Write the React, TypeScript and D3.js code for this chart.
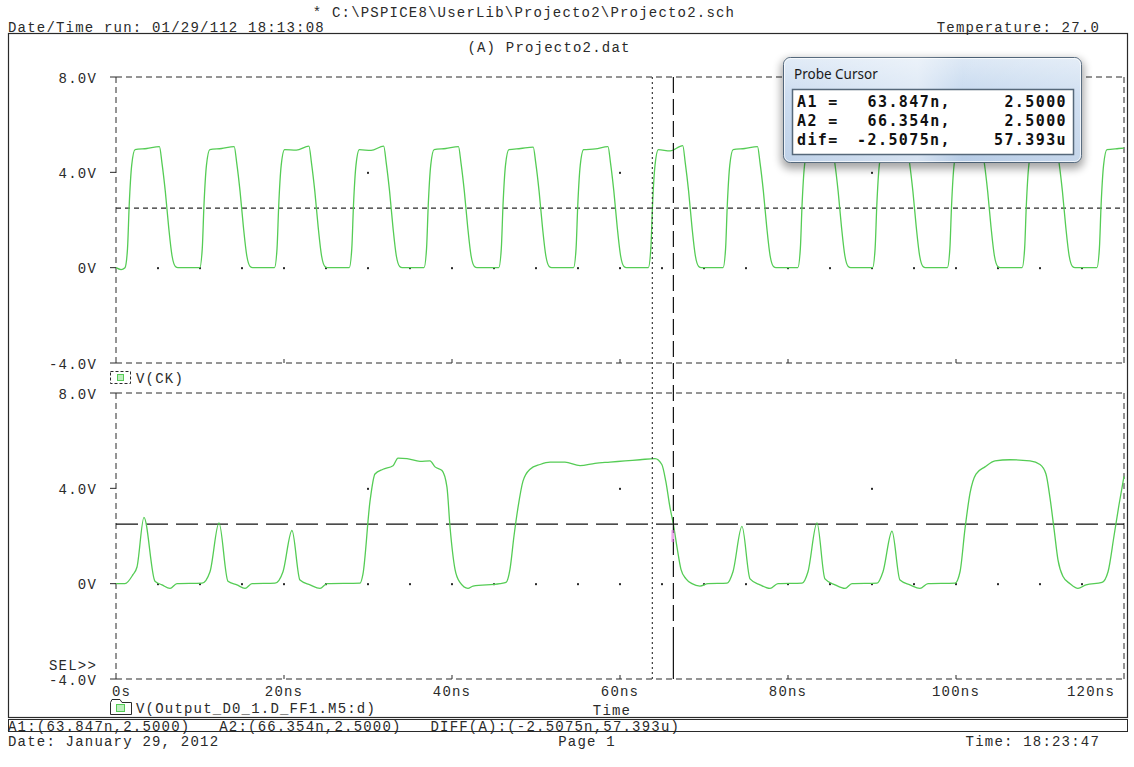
import React from 'react';
import * as d3 from 'd3';

// axis data
const timeTicks = [0, 20, 40, 60, 80, 100, 120];
const timeTickLabels = ['0s', '20ns', '40ns', '60ns', '80ns', '100ns', '120ns'];
const voltTicks = [8, 4, 0, -4];
const voltTickLabels = ['8.0V', '4.0V', '0V', '-4.0V'];

// cursors (ns, V)
const cursorA1 = [63.847, 2.5];
const cursorA2 = [66.354, 2.5];

const probeRows = [
  ['A1 =', '63.847n,', '2.5000'],
  ['A2 =', '66.354n,', '2.5000'],
  ['dif=', '-2.5075n,', '57.393u'],
];

// V(CK) trace, [ns, V]
const ckWave: [number, number][] = [
  [0, 0], [0.6, -0.08],
  [1.07, 0], [1.37, 0.8], [1.57, 2.6], [1.87, 4.3], [2.27, 4.95], [3.67, 5.0], [5.17, 5.08], [5.47, 4.4], [5.87, 3.2], [6.27, 1.7], [6.67, 0.5], [7.07, 0.05], [7.37, 0],
  [9.97, 0], [10.27, 0.8], [10.47, 2.6], [10.77, 4.3], [11.17, 4.95], [12.57, 5.0], [14.07, 5.08], [14.37, 4.4], [14.77, 3.2], [15.17, 1.7], [15.57, 0.5], [15.97, 0.05], [16.27, 0],
  [18.87, 0], [19.17, 0.8], [19.37, 2.6], [19.67, 4.3], [20.07, 4.95], [21.47, 4.93], [22.97, 5.1], [23.27, 4.4], [23.67, 3.2], [24.07, 1.7], [24.47, 0.5], [24.87, 0.05], [25.17, 0],
  [27.77, 0], [28.07, 0.8], [28.27, 2.6], [28.57, 4.3], [28.97, 4.95], [30.37, 4.92], [31.87, 5.1], [32.17, 4.4], [32.57, 3.2], [32.97, 1.7], [33.37, 0.5], [33.77, 0.05], [34.07, 0],
  [36.67, 0], [36.97, 0.8], [37.17, 2.6], [37.47, 4.3], [37.87, 4.95], [39.27, 5.0], [40.77, 5.08], [41.07, 4.4], [41.47, 3.2], [41.87, 1.7], [42.27, 0.5], [42.67, 0.05], [42.97, 0],
  [45.57, 0], [45.87, 0.8], [46.07, 2.6], [46.37, 4.3], [46.77, 4.95], [48.17, 5.0], [49.67, 5.06], [49.97, 4.4], [50.37, 3.2], [50.77, 1.7], [51.17, 0.5], [51.57, 0.05], [51.87, 0],
  [54.47, 0], [54.77, 0.8], [54.97, 2.6], [55.27, 4.3], [55.67, 4.95], [57.07, 4.98], [58.57, 5.08], [58.87, 4.4], [59.27, 3.2], [59.67, 1.7], [60.07, 0.5], [60.47, 0.05], [60.77, 0],
  [63.37, 0], [63.67, 0.8], [63.87, 2.6], [64.17, 4.3], [64.57, 4.95], [65.97, 4.9], [67.47, 5.12], [67.77, 4.4], [68.17, 3.2], [68.57, 1.7], [68.97, 0.5], [69.37, 0.05], [69.67, 0],
  [72.27, 0], [72.57, 0.8], [72.77, 2.6], [73.07, 4.3], [73.47, 4.95], [74.87, 5.0], [76.37, 5.08], [76.67, 4.4], [77.07, 3.2], [77.47, 1.7], [77.87, 0.5], [78.27, 0.05], [78.57, 0],
  [81.17, 0], [81.47, 0.8], [81.67, 2.6], [81.97, 4.3], [82.37, 4.95], [83.77, 5.0], [85.27, 5.06], [85.57, 4.4], [85.97, 3.2], [86.37, 1.7], [86.77, 0.5], [87.17, 0.05], [87.47, 0],
  [90.07, 0], [90.37, 0.8], [90.57, 2.6], [90.87, 4.3], [91.27, 4.95], [92.67, 4.96], [94.17, 5.1], [94.47, 4.4], [94.87, 3.2], [95.27, 1.7], [95.67, 0.5], [96.07, 0.05], [96.37, 0],
  [98.97, 0], [99.27, 0.8], [99.47, 2.6], [99.77, 4.3], [100.17, 4.95], [101.57, 5.0], [103.07, 5.08], [103.37, 4.4], [103.77, 3.2], [104.17, 1.7], [104.57, 0.5], [104.97, 0.05], [105.27, 0],
  [107.87, 0], [108.17, 0.8], [108.37, 2.6], [108.67, 4.3], [109.07, 4.95], [110.47, 4.98], [111.97, 5.08], [112.27, 4.4], [112.67, 3.2], [113.07, 1.7], [113.47, 0.5], [113.87, 0.05], [114.17, 0],
  [116.77, 0], [117.07, 0.8], [117.27, 2.6], [117.57, 4.3], [117.97, 4.95], [119.37, 5.0], [120, 5.02],
];

// V(Output_D0_1.D_FF1.M5:d) trace, [ns, V]
const outWave: [number, number][] = [
  [0, 0], [1.07, 0], [2.02, 0.38], [2.5, 0.7], [3.33, 2.78], [4.64, 0.1], [5.48, -0.05], [6.43, -0.2], [7.26, 0],
  [10.24, 0.02], [11.19, 0.5], [12.26, 2.55], [13.33, 0.1], [14.4, -0.05], [15.36, -0.2], [16.19, 0],
  [18.93, 0.02], [19.88, 0.5], [20.95, 2.23], [21.9, 0.15], [23.1, -0.05], [24.29, -0.2], [25.12, 0],
  [29.05, 0.02], [29.4, 0.4], [30.24, 3.46], [30.83, 4.6], [31.79, 4.8], [32.98, 4.95], [33.57, 5.27], [34.64, 5.25],
  [36.19, 5.13], [37.38, 5.15], [37.98, 4.9], [38.81, 4.75], [39.4, 4.05], [39.76, 2.4], [40.36, 0.6], [40.95, 0.05],
  [41.9, -0.2], [42.5, -0.1], [45.71, 0],
  [46.43, 0.05], [46.9, 0.6], [47.38, 2.0], [47.86, 3.2], [48.45, 4.3], [49.29, 4.8], [50.48, 5.0], [51.67, 5.1],
  [53.45, 5.1], [55.24, 4.95], [57.02, 5.05], [58.81, 5.1], [60.6, 5.15], [62.38, 5.2], [64.17, 5.25], [64.98, 5.0],
  [65.45, 4.3], [65.95, 3.2], [66.354, 2.5], [66.8, 1.5], [67.26, 0.6], [67.86, 0.2], [68.57, 0], [69.52, -0.1], [70.48, 0],
  [72.74, 0.02], [73.45, 0.5], [74.52, 2.4], [75.48, 0.2], [76.67, -0.05], [77.86, -0.2], [78.81, 0],
  [81.67, 0.02], [82.38, 0.5], [83.45, 2.55], [84.4, 0.2], [85.6, -0.05], [86.79, -0.2], [87.62, 0],
  [90.6, 0.02], [91.31, 0.5], [92.38, 2.2], [93.33, 0.15], [94.52, -0.05], [95.71, -0.2], [96.67, 0],
  [99.88, 0.02], [100.48, 0.5], [101.07, 2.3], [101.67, 3.8], [102.38, 4.6], [103.45, 4.9], [104.64, 5.15], [106.43, 5.2],
  [108.81, 5.15], [110.0, 5.0], [110.71, 4.6], [111.19, 3.6], [111.67, 2.3], [112.14, 1.0], [112.74, 0.3], [113.57, 0],
  [114.52, -0.2], [115.48, -0.05], [117.38, 0.05], [118.1, 0.5], [118.81, 2.0], [119.4, 3.3], [120, 4.5],
];

const W = 1134;
const H = 767;
const MONO = '"Liberation Mono", "DejaVu Sans Mono", monospace';
const INK = '#2a2a2a';
const TRACE = '#55cc55';

const x = d3.scaleLinear().domain([0, 120]).range([116, 1124]);
const yTop = d3.scaleLinear().domain([-4, 8]).range([363, 77]);
const yBot = d3.scaleLinear().domain([-4, 8]).range([679, 393]);

const T: React.FC<{ x: number; y: number; anchor?: string; children: React.ReactNode; size?: number }> = ({ x, y, anchor = 'start', children, size = 14 }) => (
  <text x={x} y={y} textAnchor={anchor} fontFamily={MONO} fontSize={size} letterSpacing={1.2} fill={INK} dominantBaseline="middle" style={{ whiteSpace: 'pre' }}>
    {children}
  </text>
);

const Plot: React.FC<{ y: d3.ScaleLinear<number, number>; data: [number, number][]; hDash: string; last: boolean }> = ({ y, data, hDash, last }) => {
  const line = d3.line<[number, number]>().x(d => x(d[0])).y(d => y(d[1])).curve(d3.curveMonotoneX);
  const [x0, x1] = x.range();
  const [yb, yt] = y.range();
  return (
    <g>
      {/* frame */}
      <line x1={x0} x2={x1} y1={yt} y2={yt} stroke={INK} strokeDasharray="6 4" />
      <line x1={x0} x2={x1} y1={yb} y2={yb} stroke={INK} strokeDasharray="6 4" />
      <line x1={x0} x2={x0} y1={yt} y2={yb} stroke={INK} strokeDasharray="6 4" />
      <line x1={x1} x2={x1} y1={yt} y2={yb} stroke={INK} strokeDasharray="6 4" />
      {voltTicks.map((v, i) => (
        <g key={v}>
          <line x1={x0 - 6} x2={x0} y1={y(v)} y2={y(v)} stroke={INK} />
          <T x={97} y={y(v) + 2} anchor="end">{voltTickLabels[i]}</T>
        </g>
      ))}
      {timeTicks.slice(1, -1).map(t => (
        <line key={t} x1={x(t)} x2={x(t)} y1={yb} y2={yb - 4} stroke={INK} />
      ))}
      {/* grid dots */}
      {d3.range(5, 120, 5).map(t => (
        <rect key={'a' + t} x={x(t) - 1} y={y(0) - 0.5} width={2} height={2} fill={INK} />
      ))}
      {d3.range(30, 120, 30).map(t => (
        <rect key={'b' + t} x={x(t) - 1} y={y(4) - 0.5} width={2} height={2} fill={INK} />
      ))}
      {/* horizontal cursor level */}
      <line x1={x0} x2={x1} y1={y(cursorA1[1])} y2={y(cursorA1[1])} stroke={last ? '#111' : INK} strokeWidth={last ? 1.3 : 1.1} strokeDasharray={hDash} />
      <path d={line(data) || ''} fill="none" stroke={TRACE} strokeWidth={1.3} />
    </g>
  );
};

export default function App() {
  const xa1 = x(cursorA1[0]);
  const xa2 = x(cursorA2[0]);
  const px = 783;
  const py = 57;
  return (
    <svg width={W} height={H} style={{ position: 'absolute', left: 0, top: 0, background: '#fff' }}>
      <defs>
        <linearGradient id="glass" x1="0" y1="0" x2="0" y2="1">
          <stop offset="0" stopColor="#dce8f5" />
          <stop offset="0.35" stopColor="#c4d7ee" />
          <stop offset="1" stopColor="#b3c9e4" />
        </linearGradient>
        <linearGradient id="glassSheen" x1="0" y1="0" x2="1" y2="0">
          <stop offset="0" stopColor="#ffffff" stopOpacity="0.15" />
          <stop offset="0.45" stopColor="#ffffff" stopOpacity="0.45" />
          <stop offset="0.6" stopColor="#ffffff" stopOpacity="0.05" />
          <stop offset="1" stopColor="#ffffff" stopOpacity="0.25" />
        </linearGradient>
        <filter id="shadow" x="-10%" y="-20%" width="120%" height="150%">
          <feGaussianBlur stdDeviation="4" />
        </filter>
      </defs>
      <rect width={W} height={H} fill="#fff" />

      {/* header */}
      <T x={524} y={13} anchor="middle">* C:\PSPICE8\UserLib\Projecto2\Projecto2.sch</T>
      <T x={8} y={28}>Date/Time run: 01/29/112 18:13:08</T>
      <T x={1100} y={28} anchor="end">Temperature: 27.0</T>

      {/* outer frame */}
      <rect x={8.5} y={33.5} width={1119} height={684} fill="none" stroke={INK} strokeWidth={1.2} />
      <T x={549} y={48} anchor="middle">(A) Projecto2.dat</T>

      <Plot y={yTop} data={ckWave} hDash="5 4" last={false} />
      <Plot y={yBot} data={outWave} hDash="22 8" last={true} />

      {/* cursors */}
      <line x1={xa1} x2={xa1} y1={yTop(8)} y2={yBot(-4)} stroke={INK} strokeWidth={1.1} strokeDasharray="2 3" />
      <line x1={xa2} x2={xa2} y1={yTop(8)} y2={yBot(-4) - 36} stroke="#111" strokeWidth={1.2} strokeDasharray="16 6" />
      <line x1={xa2} x2={xa2} y1={yBot(-4) - 36} y2={yBot(-4)} stroke="#111" strokeWidth={1.2} />
      <rect x={xa2 - 2} y={yBot(cursorA2[1]) + 6} width={3} height={12} fill="#e070e0" opacity={0.6} />

      {/* x axis labels */}
      {timeTicks.map((t, i) => (
        <T key={t} x={i === 0 ? x(t) - 4 : i === timeTicks.length - 1 ? x(t) - 9 : x(t)} y={692} anchor={i === 0 ? 'start' : i === timeTicks.length - 1 ? 'end' : 'middle'}>
          {timeTickLabels[i]}
        </T>
      ))}
      <T x={97} y={666} anchor="end">SEL&gt;&gt;</T>

      {/* legends */}
      <rect x={110.5} y={371.5} width={20} height={12} fill="none" stroke={INK} strokeDasharray="3 2" />
      <rect x={117.5} y={374.5} width={6} height={6} fill="#bfeebf" stroke={TRACE} />
      <T x={136} y={379}>V(CK)</T>

      <path d="M110.5,702.5 V714.5 H131.5 V702.5 H122 L120,699.5 H112 Z" fill="none" stroke={INK} />
      <rect x={116.5} y={704.5} width={8} height={7} fill="#bfeebf" stroke={TRACE} />
      <T x={136} y={709}>V(Output_D0_1.D_FF1.M5:d)</T>
      <T x={612} y={711} anchor="middle">Time</T>

      {/* status line */}
      <rect x={8.5} y={719.5} width={1119} height={12} fill="none" stroke={INK} />
      <T x={8} y={727}>{'A1:(63.847n,2.5000)   A2:(66.354n,2.5000)   DIFF(A):(-2.5075n,57.393u)'}</T>
      <T x={8} y={742}>Date: January 29, 2012</T>
      <T x={587} y={742} anchor="middle">Page 1</T>
      <T x={1100} y={742} anchor="end">Time: 18:23:47</T>

      {/* probe cursor window */}
      <rect x={px - 2} y={py + 2} width={303} height={110} rx={9} fill="#000" opacity={0.35} filter="url(#shadow)" />
      <rect x={px + 0.5} y={py + 0.5} width={298} height={105} rx={7} fill="url(#glass)" stroke="#43596f" />
      <rect x={px + 0.5} y={py + 0.5} width={298} height={105} rx={7} fill="url(#glassSheen)" />
      <rect x={px + 1.5} y={py + 1.5} width={296} height={103} rx={6} fill="none" stroke="#ffffff" strokeOpacity={0.7} />
      <text x={px + 11} y={py + 22} fontFamily='"Noto Sans", "Open Sans", sans-serif' fontSize={13.5} fill="#1a1a1a">Probe Cursor</text>
      <rect x={px + 9.5} y={py + 32.5} width={281} height={65} fill="#fff" stroke="#56687a" strokeWidth={1.5} />
      {probeRows.map((r, i) => (
        <g key={r[0]} fontFamily='"DejaVu Sans Mono", monospace' fontWeight="bold" fontSize={15} fill="#111" letterSpacing={1.4}>
          <text x={px + 14} y={py + 50 + i * 19}>{r[0]}</text>
          <text x={px + 168} y={py + 50 + i * 19} textAnchor="end">{r[1]}</text>
          <text x={px + 284} y={py + 50 + i * 19} textAnchor="end">{r[2]}</text>
        </g>
      ))}
    </svg>
  );
}
